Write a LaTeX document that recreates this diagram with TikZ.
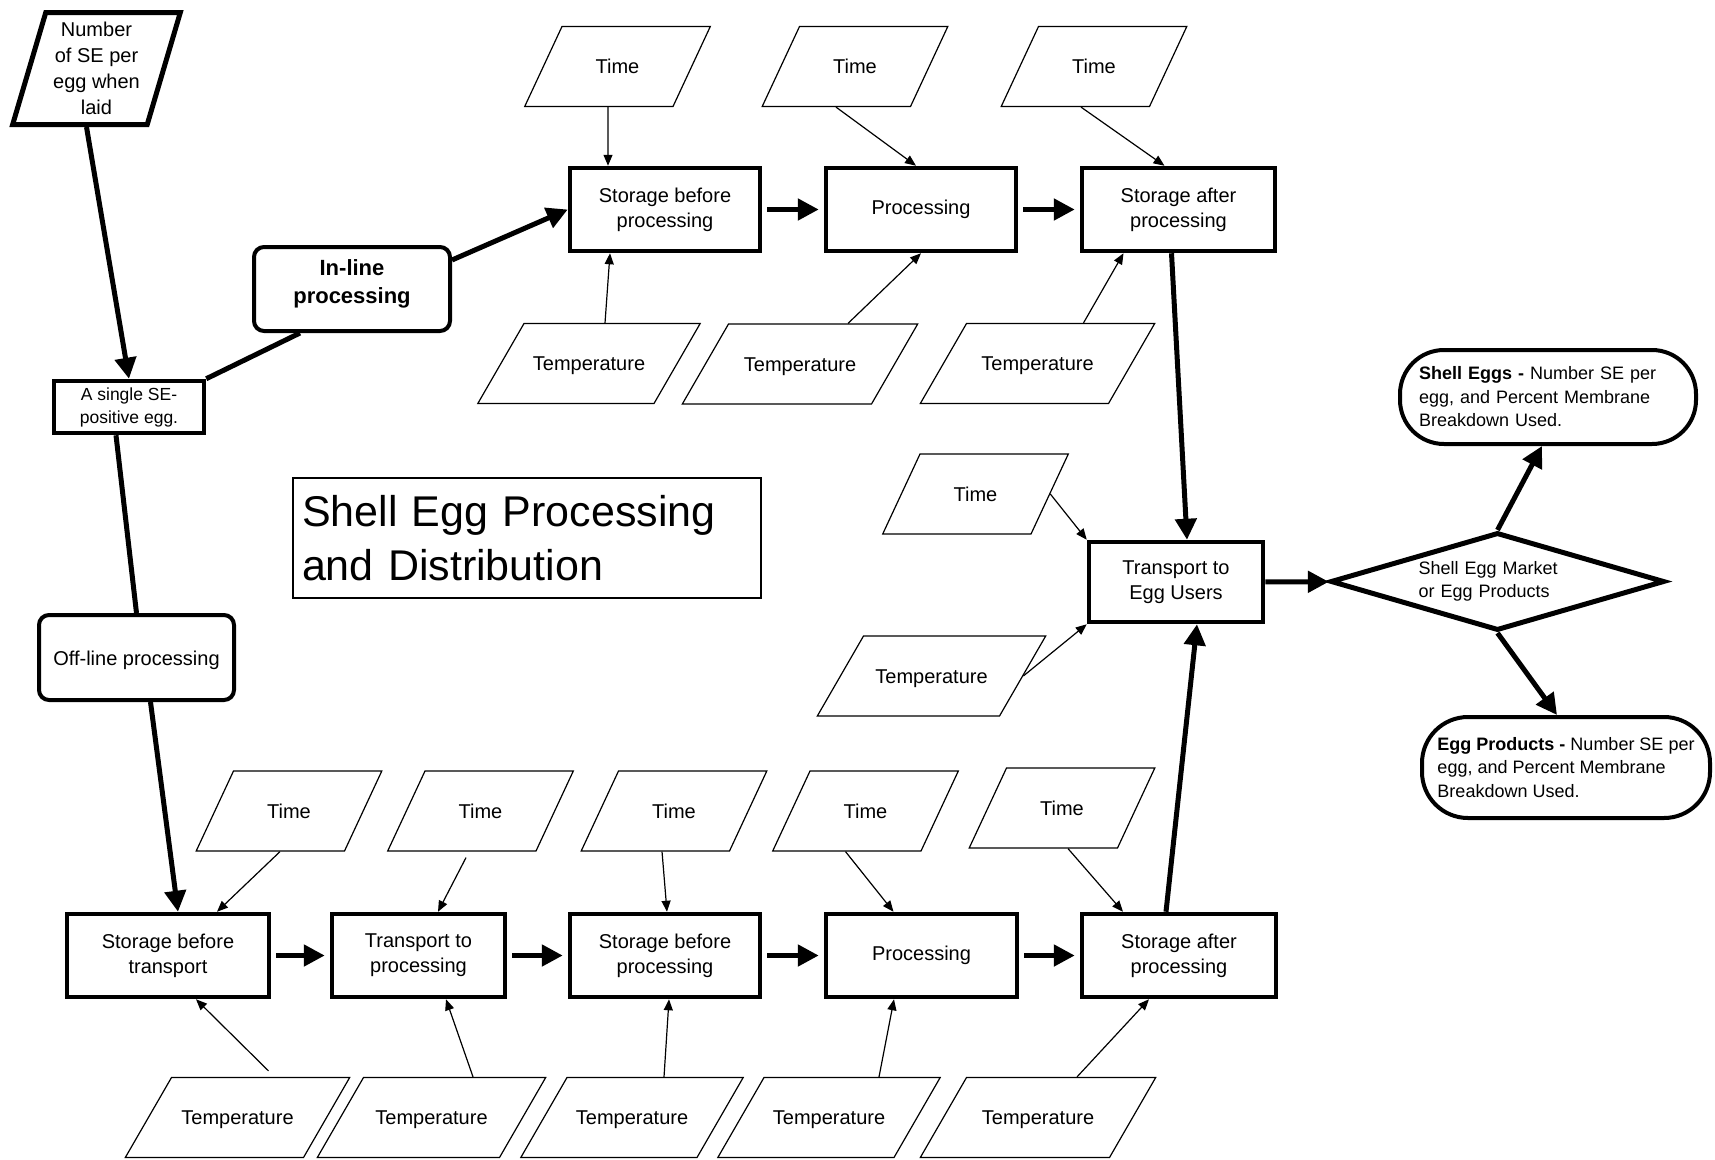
\documentclass[tikz,border=0pt]{standalone}
\usepackage{fontspec}
\setmainfont{Liberation Sans}
\usetikzlibrary{shapes.geometric,arrows.meta}

\tikzset{
  proc/.style={draw, line width=4.5pt, minimum height=83pt, align=center,
    inner sep=2pt, font=\fontsize{20}{25}\selectfont},
  term/.style={proc, line width=4pt, rounded corners=10pt},
  numin/.style={trapezium, trapezium left angle=73, trapezium right angle=107,
    trapezium stretches, draw, line width=5pt, minimum width=168pt,
    minimum height=112pt, inner sep=1pt, align=center,
    font=\fontsize{20}{26}\selectfont},
  datain/.style={trapezium, trapezium left angle=65, trapezium right angle=115,
    draw, line width=1.2pt, inner sep=0pt, minimum width=0pt, minimum height=0pt,
    text width=111pt, text height=47pt, text depth=33pt, align=center,
    font=\fontsize{20}{25}\selectfont},
  tempin/.style={datain, trapezium left angle=60, trapezium right angle=120,
    text width=#1},
  tempin/.default=130pt,
  outbox/.style={draw, line width=4pt, rounded corners=44pt, align=left,
    inner sep=0pt, font=\fontsize{18}{23.5}\selectfont},
  flow/.style={line width=5pt, -{Triangle[length=21pt,width=21pt]}},
  link/.style={line width=5pt},
  feed/.style={line width=1.2pt, -{Triangle[length=11pt,width=9pt]}}
}

\begin{document}
\begin{tikzpicture}[x=1pt,y=-1pt]
  \useasboundingbox (0,0) rectangle (1715,1159);

  \node[numin] (num) at (96.5,68.5) {Number\\of SE per\\egg when\\laid};
  \node[proc, minimum width=150pt, minimum height=52pt,
    font=\fontsize{17.5}{23}\selectfont] (egg) at (129,407) {A single SE-\\positive egg.};
  \node[term, minimum width=196pt, minimum height=84pt,
    font=\bfseries\fontsize{22}{28}\selectfont] (inl) at (352,289)
    {\raisebox{5pt}[\height][\depth]{\begin{tabular}{@{}c@{}}In-line\\processing\end{tabular}}};
  \node[term, minimum width=195pt, minimum height=85pt] (off) at (136.5,657.5)
    {\raisebox{-3pt}[\height][\depth]{Off-line processing}};
  \node[draw, line width=1.2pt, minimum width=468pt, minimum height=120pt,
    text width=450pt, inner sep=9pt, align=left,
    font=\fontsize{43}{54}\selectfont] (title) at (527,538)
    {Shell Egg Processing\\and Distribution};

  % in-line row
  \node[proc, minimum width=190pt] (sbp) at (665,209.5) {Storage before\\processing};
  \node[proc, minimum width=190pt] (prc) at (921,209.5) {Processing};
  \node[proc, minimum width=193pt] (sap) at (1178.5,209.5) {Storage after\\processing};
  \node[datain] (tA) at (617.5,66.5) {Time};
  \node[datain] (tB) at (855,66.5) {Time};
  \node[datain] (tC) at (1094,66.5) {Time};
  \node[tempin] (pA) at (589,363.5) {Temperature};
  \node[tempin=143pt] (pB) at (800,364) {Temperature};
  \node[tempin=142pt] (pC) at (1037.5,363.5) {Temperature};

  % distribution
  \node[proc, minimum width=174pt, minimum height=80pt] (trn) at (1176,582) {Transport to\\Egg Users};
  \node[datain] (tR) at (975.5,494) {Time};
  \node[tempin=136pt] (pR) at (931.5,676) {Temperature};
  \node[diamond, draw, line width=5pt, aspect=3.3, minimum width=334pt,
    minimum height=98pt, inner sep=0pt, text width=158pt, align=left,
    font=\fontsize{18}{23}\selectfont] (dia) at (1497.5,581.5)
    {Shell Egg Market\\or Egg Products};
  \node[outbox, text width=258pt, minimum width=296pt, minimum height=94pt] (shell) at (1548,397)
    {\textbf{Shell Eggs -} Number SE per\\egg, and Percent Membrane\\Breakdown Used.};
  \node[outbox, minimum width=288pt, minimum height=101pt,
    rounded corners=46pt] (prod) at (1566,767.5)
    {\textbf{Egg Products -} Number SE per\\egg, and Percent Membrane\\Breakdown Used.};

  % off-line row
  \node[proc, minimum width=202pt] (sbt) at (168,955.5) {Storage before\\transport};
  \node[proc, minimum width=173pt] (ttp) at (418.5,955.5) {Transport to\\processing};
  \node[proc, minimum width=190pt] (sbp2) at (665,955.5) {Storage before\\processing};
  \node[proc, minimum width=191pt] (prc2) at (921.5,955.5) {Processing};
  \node[proc, minimum width=194pt] (sap2) at (1179,955.5) {Storage after\\processing};
  \node[datain] (T1) at (289,811) {Time};
  \node[datain] (T2) at (480.5,811) {Time};
  \node[datain] (T3) at (674,811) {Time};
  \node[datain] (T4) at (865.5,811) {Time};
  \node[datain] (T5) at (1062,808) {Time};
  \node[tempin=132pt] (Q1) at (237.5,1117.5) {Temperature};
  \node[tempin=136pt] (Q2) at (431.5,1117.5) {Temperature};
  \node[tempin] (Q3) at (632,1117.5) {Temperature};
  \node[tempin] (Q4) at (829,1117.5) {Temperature};
  \node[tempin=143pt] (Q5) at (1038,1117.5) {Temperature};

  \path[flow]
    ([xshift=-10pt]num.south) edge (egg.north)
    ([yshift=29pt]inl.east) edge (sbp.west)
    ([xshift=14pt]off.south) edge ([xshift=10pt]sbt.north)
    ([xshift=-7pt]sap.south) edge ([xshift=11pt]trn.north)
    ([xshift=-13pt]sap2.north) edge ([xshift=21pt]trn.south)
    (trn) edge (dia)
    (dia.north) edge ([xshift=-6pt]shell.south)
    (dia.south) edge ([xshift=-9pt]prod.north);
  \path[flow, shorten <=5pt, shorten >=5pt]
    (sbp) edge (prc)
    (prc) edge (sap)
    (sbt) edge (ttp)
    (ttp) edge (sbp2)
    (sbp2) edge (prc2)
    (prc2) edge (sap2);
  \path[link]
    (egg.north east) edge ([xshift=-52pt]inl.south)
    ([xshift=-13pt]egg.south) edge (off.north);

  \path[feed]
    ([xshift=-9.5pt]tA.south) edge ([xshift=-57pt]sbp.north)
    ([xshift=-19pt]tB.south) edge ([xshift=-5pt]prc.north)
    ([xshift=-13pt]tC.south) edge ([xshift=-14pt]sap.north)
    ([xshift=16pt]pA.north) edge ([xshift=-55pt]sbp.south)
    ([xshift=48pt]pB.north) edge (prc.south)
    ([xshift=46pt]pC.north) edge ([xshift=-55pt]sap.south)
    (tR.east) edge (trn.north west)
    (pR.east) edge (trn.south west)
    ([xshift=-9pt]T1.south) edge ([xshift=49pt]sbt.north)
    ([xshift=-14.5pt,yshift=-6pt]T2.south) edge ([xshift=19.5pt]ttp.north)
    ([xshift=-12pt]T3.south) edge ([xshift=2pt]sbp2.north)
    ([xshift=-20pt]T4.south) edge ([xshift=-28pt]prc2.north)
    ([xshift=6pt]T5.south) edge ([xshift=-56pt]sap2.north)
    ([xshift=31pt,yshift=6pt]Q1.north) edge ([xshift=28pt]sbt.south)
    ([xshift=41.5pt]Q2.north) edge ([xshift=27.5pt]ttp.south)
    ([xshift=32pt]Q3.north) edge ([xshift=4pt]sbp2.south)
    ([xshift=50pt]Q4.north) edge ([xshift=-27.5pt]prc2.south)
    ([xshift=39pt]Q5.north) edge ([xshift=-30pt]sap2.south);
\end{tikzpicture}
\end{document}
